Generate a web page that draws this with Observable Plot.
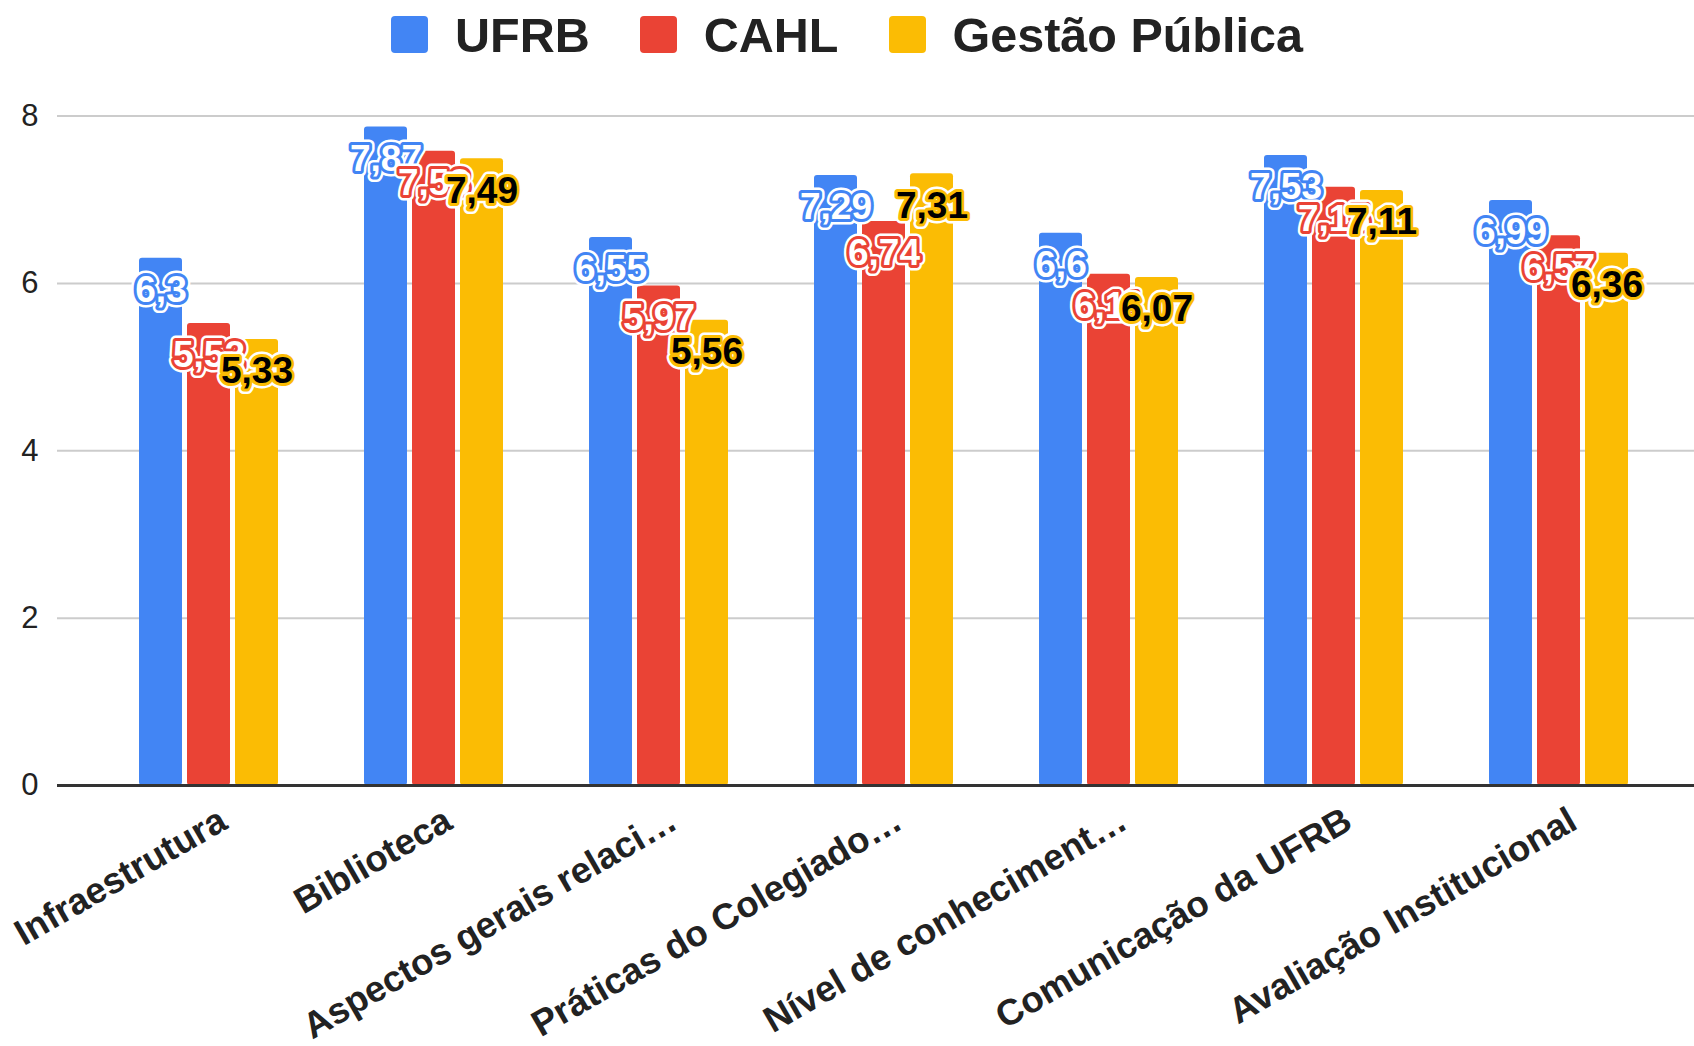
<!DOCTYPE html>
<html>
<head>
<meta charset="utf-8">
<script src="https://cdn.jsdelivr.net/npm/d3@7"></script>
<script src="https://cdn.jsdelivr.net/npm/@observablehq/plot@0.6"></script>
<style>
  html, body { margin: 0; padding: 0; background: #fff; }
  body { width: 1694px; height: 1046px; overflow: hidden; font-family: "Liberation Sans", Arial, sans-serif; }
  #legend { height: 69px; padding-bottom: 11px; display: flex; justify-content: center; align-items: center; }
  .item { display: flex; align-items: center; font-weight: bold; font-size: 48.5px; color: #222; margin: 0 25px; }
  .sw { width: 37px; height: 37px; border-radius: 4px; margin-right: 27px; }
  #chart { position: relative; width: 1694px; height: 966px; }
  #chart svg { position: absolute; left: 0; top: 0; }
</style>
</head>
<body>
<div id="legend"></div>
<div id="chart"></div>
<script>
const categories = ["Infraestrutura", "Biblioteca", "Aspectos gerais relaci…", "Práticas do Colegiado…", "Nível de conheciment…", "Comunicação da UFRB", "Avaliação Institucional"];
const series = ["UFRB", "CAHL", "Gestão Pública"];
const ufrb   = [6.3, 7.87, 6.55, 7.29, 6.6, 7.53, 6.99];
const cahl   = [5.52, 7.58, 5.97, 6.74, 6.11, 7.15, 6.57];
const gestao = [5.33, 7.49, 5.56, 7.31, 6.07, 7.11, 6.36];
const yTicks = [0, 2, 4, 6, 8];
const colors = ["#4285F4", "#EA4335", "#FBBC04"];
const textColors = ["#ffffff", "#ffffff", "#000000"];

const values = [ufrb, cahl, gestao];
const data = [];
categories.forEach((c, i) => series.forEach((s, j) => data.push({category: c, series: s, value: values[j][i]})));
const fmt = v => String(v).replace(".", ",");

// legend
const legend = document.getElementById("legend");
series.forEach((s, j) => {
  const it = document.createElement("div");
  it.className = "item";
  const sw = document.createElement("div");
  sw.className = "sw";
  sw.style.background = colors[j];
  it.appendChild(sw);
  it.appendChild(document.createTextNode(s));
  legend.appendChild(it);
});

const common = {
  width: 1694,
  height: 966,
  marginLeft: 57,
  marginRight: 0,
  marginTop: 35.6,
  marginBottom: 261,
  y: {domain: [0, 8], axis: null}
};
const font = "'Liberation Sans', Arial, sans-serif";

// background: gridlines, baseline, y axis
const back = Plot.plot({
  ...common,
  style: {fontFamily: font, background: "#fff", color: "#222"},
  marks: [
    Plot.ruleY([2, 4, 6, 8], {stroke: "#cccccc", strokeWidth: 2}),
    Plot.ruleY([0], {stroke: "#333333", strokeWidth: 3}),
    Plot.axisY({ticks: yTicks, tickSize: 0, tickPadding: 19, fontSize: 31, label: null, tickFormat: d => String(d)})
  ]
});

const labelMarks = [];
series.forEach((s, j) => {
  const sub = data.filter(d => d.series === s);
  labelMarks.push(Plot.text(sub, {fx: "category", x: "series", y: "value", text: d => fmt(d.value), dy: 32,
    fontSize: 37, fontWeight: "bold", fill: "#ffffff", stroke: "#ffffff", strokeWidth: 11, strokeLinejoin: "round"}));
  labelMarks.push(Plot.text(sub, {fx: "category", x: "series", y: "value", text: d => fmt(d.value), dy: 32,
    fontSize: 37, fontWeight: "bold", fill: textColors[j], stroke: colors[j], strokeWidth: 6, strokeLinejoin: "round", paintOrder: "stroke"}));
});

// foreground: bars, labels, category axis
const front = Plot.plot({
  ...common,
  style: {fontFamily: font, background: "transparent", color: "#222"},
  fx: {domain: categories, range: [95.4, 1672.5], paddingInner: 0.379, paddingOuter: 0.19, label: null},
  x: {domain: series, paddingInner: 0.104, paddingOuter: 0, axis: null},
  color: {domain: series, range: colors},
  marks: [
    Plot.barY(data, {fx: "category", x: "series", y: "value", fill: "series", rx: 3}),
    Plot.ruleY([0], {stroke: "#333333", strokeWidth: 3}),
    Plot.axisFx({anchor: "bottom", tickRotate: -30, tickSize: 0, tickPadding: 32, dx: 14, fontSize: 36.5, fontWeight: "bold", label: null}),
    ...labelMarks
  ]
});
document.getElementById("chart").appendChild(back);
document.getElementById("chart").appendChild(front);
</script>
</body>
</html>
